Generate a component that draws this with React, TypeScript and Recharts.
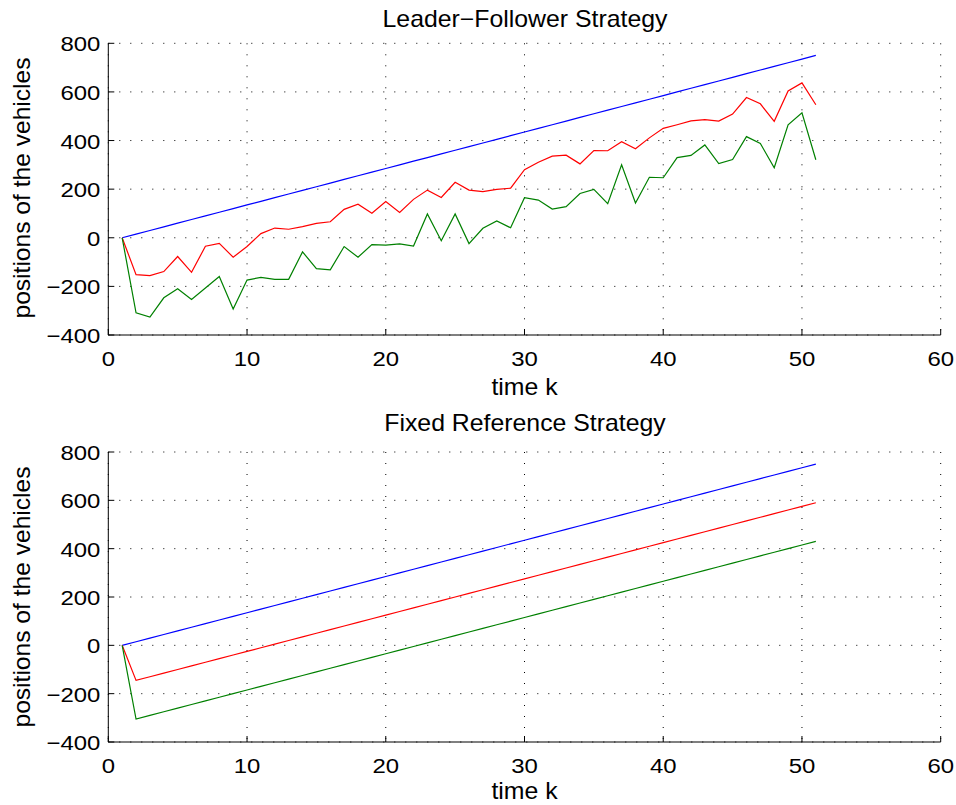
import React from 'react';
import { LineChart, Line, XAxis, YAxis, CartesianGrid } from 'recharts';

// time index k
const steps = [
  1, 2, 3, 4, 5, 6, 7, 8, 9, 10, 11, 12, 13, 14, 15, 16, 17, 18, 19, 20, 21, 22, 23, 24, 25,
  26, 27, 28, 29, 30, 31, 32, 33, 34, 35, 36, 37, 38, 39, 40, 41, 42, 43, 44, 45, 46, 47, 48, 49, 50, 51,
];

// leader (blue), same in both panels
const leaderPos = [
  0, 15, 30, 45, 60, 75, 90, 105, 120, 135, 150, 165, 180, 195, 210, 225, 240, 255, 270, 285, 300, 315, 330, 345, 360,
  375, 390, 405, 420, 435, 450, 465, 480, 495, 510, 525, 540, 555, 570, 585, 600, 615, 630, 645, 660, 675, 690, 705, 720, 735, 750,
];

// leader-follower strategy
const lfRed = [
  0, -152, -156, -139, -77, -142, -35, -23, -80, -36, 17, 40, 35, 46, 59, 66, 117, 138, 101, 149, 104, 158, 196, 166, 228,
  196, 190, 199, 204, 280, 311, 336, 340, 304, 359, 358, 395, 366, 411, 450, 465, 481, 486, 480, 509, 577, 551, 479, 604, 637, 547,
];
const lfGreen = [
  0, -309, -326, -247, -210, -254, -207, -159, -293, -174, -163, -171, -171, -58, -127, -132, -36, -80, -28, -30, -25, -34, 98, -12, 98,
  -24, 39, 69, 41, 165, 155, 118, 128, 182, 199, 140, 300, 143, 249, 247, 330, 339, 382, 305, 322, 416, 388, 288, 465, 514, 321,
];

// fixed reference strategy
const frRed = [
  0, -145, -130, -115, -100, -85, -70, -55, -40, -25, -10, 5, 20, 35, 50, 65, 80, 95, 110, 125, 140, 155, 170, 185, 200,
  215, 230, 245, 260, 275, 290, 305, 320, 335, 350, 365, 380, 395, 410, 425, 440, 455, 470, 485, 500, 515, 530, 545, 560, 575, 590,
];
const frGreen = [
  0, -305, -290, -275, -260, -245, -230, -215, -200, -185, -170, -155, -140, -125, -110, -95, -80, -65, -50, -35, -20, -5, 10, 25, 40,
  55, 70, 85, 100, 115, 130, 145, 160, 175, 190, 205, 220, 235, 250, 265, 280, 295, 310, 325, 340, 355, 370, 385, 400, 415, 430,
];

const xTicks = [0, 10, 20, 30, 40, 50, 60];
const yTicks = [-400, -200, 0, 200, 400, 600, 800];

const lfData = steps.map((k, i) => ({ k, blue: leaderPos[i], red: lfRed[i], green: lfGreen[i] }));
const frData = steps.map((k, i) => ({ k, blue: leaderPos[i], red: frRed[i], green: frGreen[i] }));

const FONT = '"Liberation Sans", Arial, Helvetica, sans-serif';

const fmt = (v: number) => (v < 0 ? `\u2212${Math.abs(v)}` : `${v}`);

const XTick = (props: any) => {
  const { x, y, payload } = props;
  return (
    <g>
      <line x1={x} x2={x} y1={y} y2={y - 6} stroke="#000" />
      <text
        transform={`translate(${x},${y + 30.5}) scale(1.14,1)`}
        textAnchor="middle"
        fontSize={21}
        fontFamily={FONT}
        fill="#000"
      >
        {fmt(payload.value)}
      </text>
    </g>
  );
};

const YTick = (props: any) => {
  const { x, y, payload } = props;
  return (
    <g>
      <line x1={x} x2={x + 6} y1={y} y2={y} stroke="#000" />
      <text
        transform={`translate(${x - 8},${y + 8}) scale(1.14,1)`}
        textAnchor="end"
        fontSize={21}
        fontFamily={FONT}
        fill="#000"
      >
        {fmt(payload.value)}
      </text>
    </g>
  );
};

const Panel = ({ data, marginTop, xAxisHeight }: { data: any[]; marginTop: number; xAxisHeight: number }) => (
  <LineChart width={956} height={400} data={data} margin={{ top: marginTop, right: 15.3, bottom: 0, left: 0 }}>
    <CartesianGrid stroke="#000" strokeDasharray="1 10" />
    <XAxis
      dataKey="k"
      type="number"
      domain={[0, 60]}
      ticks={xTicks}
      height={xAxisHeight}
      tickSize={0}
      tickMargin={0}
      tick={<XTick />}
      axisLine={{ stroke: '#000' }}
      interval={0}
    />
    <YAxis
      type="number"
      domain={[-400, 800]}
      ticks={yTicks}
      width={108.3}
      tickSize={0}
      tickMargin={0}
      tick={<YTick />}
      axisLine={{ stroke: '#000' }}
      interval={0}
    />
    <Line type="linear" dataKey="blue" stroke="#0000ff" strokeWidth={1.2} dot={false} isAnimationActive={false} />
    <Line type="linear" dataKey="red" stroke="#ff0000" strokeWidth={1.2} dot={false} isAnimationActive={false} />
    <Line type="linear" dataKey="green" stroke="#008000" strokeWidth={1.2} dot={false} isAnimationActive={false} />
  </LineChart>
);

const Label = ({ x, y, text, rotate = false, sx = 1.08 }: { x: number; y: number; text: string; rotate?: boolean; sx?: number }) => (
  <text
    transform={`translate(${x},${y})${rotate ? ' rotate(-90)' : ''} scale(${sx},1)`}
    textAnchor="middle"
    fontSize={23}
    fontFamily={FONT}
    fill="#000"
  >
    {text}
  </text>
);

export default function App() {
  return (
    <div style={{ position: 'absolute', left: 0, top: 0, width: 956, height: 805, background: '#fff' }}>
      <div style={{ position: 'absolute', left: 0, top: 0 }}>
        <Panel data={lfData} marginTop={43.3} xAxisHeight={65} />
      </div>
      <div style={{ position: 'absolute', left: 0, top: 405 }}>
        <Panel data={frData} marginTop={47} xAxisHeight={63} />
      </div>
      <svg width={956} height={805} style={{ position: 'absolute', left: 0, top: 0, pointerEvents: 'none' }}>
        <Label x={525} y={27} text={'Leader\u2212Follower Strategy'} />
        <Label x={524.5} y={395} text="time k" />
        <Label x={29.5} y={188} text="positions of the vehicles" rotate sx={1.07} />
        <Label x={525} y={430.5} text="Fixed Reference Strategy" />
        <Label x={524.5} y={799} text="time k" />
        <Label x={29.5} y={597} text="positions of the vehicles" rotate sx={1.07} />
      </svg>
    </div>
  );
}
